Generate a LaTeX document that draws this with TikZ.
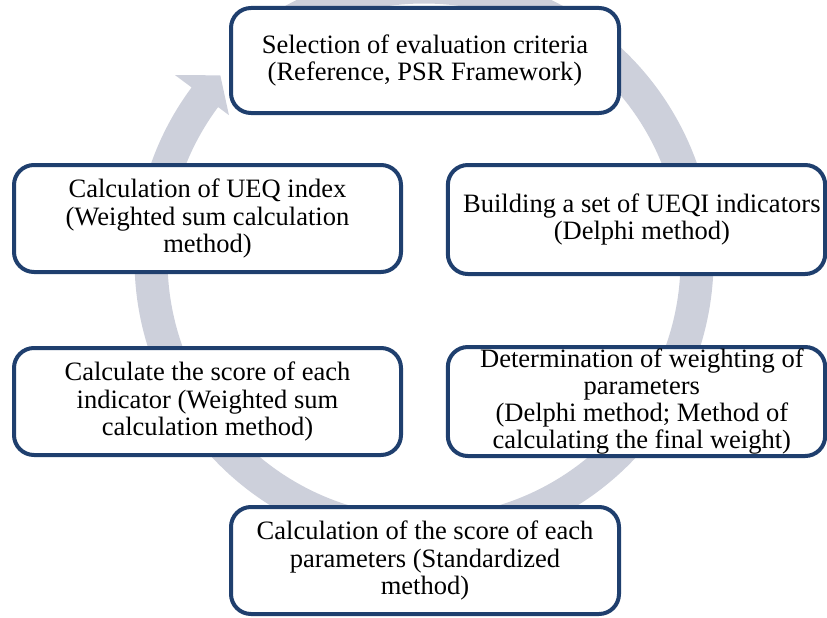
\documentclass[tikz,border=0pt]{standalone}
\usepackage{fontspec}
\setmainfont{Liberation Serif}
\definecolor{boxblue}{RGB}{31,63,110}
\definecolor{bandgrey}{RGB}{205,208,219}
\begin{document}
\begin{tikzpicture}[x=0.75pt,y=-0.75pt,
  stagebox/.style={draw=boxblue, line width=3pt, fill=white, rounded corners=15pt, inner sep=0pt},
  stagetext/.style={align=center, inner sep=0pt, text=black, font=\fontsize{19.9pt}{20.4pt}\selectfont},
  band/.style={fill=bandgrey, draw=none}]
\useasboundingbox (0,0) rectangle (827,617);
% cycle arrow
\coordinate (c) at (424,260);
\fill[band] ([shift={(c)}]240:289.5) arc[start angle=240, end angle=576.6, radius=289.5]
  -- ([shift={(c)}]576.6:310) -- ([shift={(c)}]582.2:275) -- ([shift={(c)}]576.6:243)
  -- ([shift={(c)}]576.6:256.5) arc[start angle=576.6, end angle=240, radius=256.5] -- cycle;
% boxes
\node[stagebox, minimum width=291pt, minimum height=78.75pt] (b1) at (425,60.5) {};
\node[stagebox, minimum width=283pt, minimum height=81.75pt] (b2) at (636.5,219.5) {};
\node[stagebox, minimum width=283pt, minimum height=81.75pt] (b3) at (636.5,401.5) {};
\node[stagebox, minimum width=291pt, minimum height=80.25pt] (b4) at (425,560.5) {};
\node[stagebox, minimum width=290.25pt, minimum height=80.25pt] (b5) at (207.5,401.5) {};
\node[stagebox, minimum width=290.25pt, minimum height=80.25pt] (b6) at (207.5,218.5) {};
% texts
\node[stagetext] (t1) at (b1) {Selection of evaluation criteria\\(Reference, PSR Framework)};
\node[stagetext] (t2) at ([xshift=4]b2.center) {Building a set of UEQI indicators\\(Delphi method)};
\node[stagetext] (t3) at ([xshift=4]b3.center) {Determination of weighting of\\parameters\\(Delphi method; Method of\\calculating the final weight)};
\node[stagetext] (t4) at (b4) {Calculation of the score of each\\parameters (Standardized\\method)};
\node[stagetext] (t5) at (b5) {Calculate the score of each\\indicator (Weighted sum\\calculation method)};
\node[stagetext] (t6) at (b6) {Calculation of UEQ index\\(Weighted sum calculation\\method)};
\end{tikzpicture}
\end{document}
